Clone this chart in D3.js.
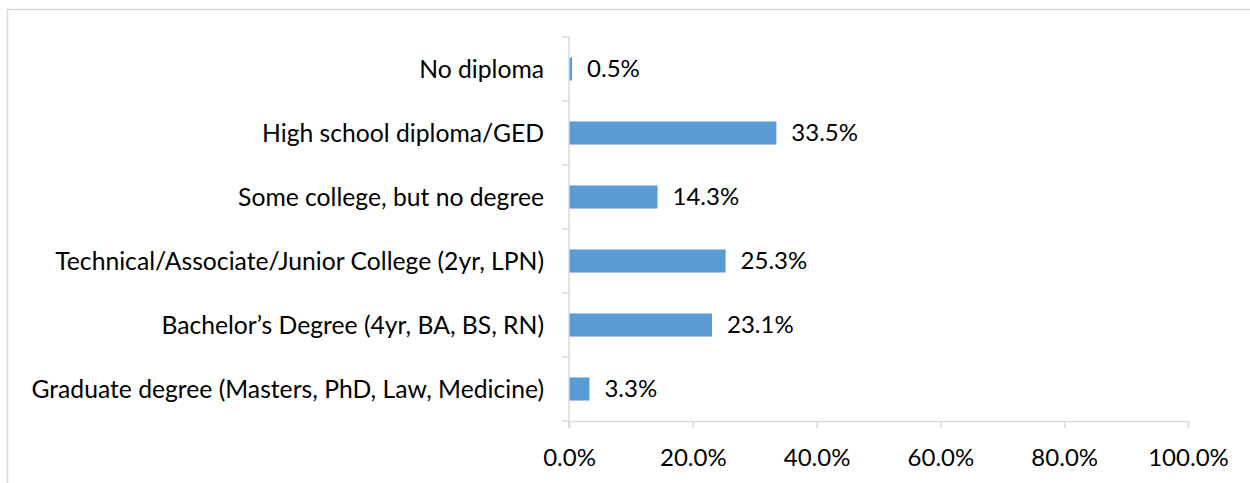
<!DOCTYPE html>
<html>
<head>
<meta charset="utf-8">
<script src="https://cdn.jsdelivr.net/npm/d3@7"></script>
<style>
  html, body { margin: 0; padding: 0; background: #fff; overflow: hidden; }
  svg { display: block; font-family: Lato, "Open Sans", sans-serif; }
</style>
</head>
<body>
<svg id="chart" width="1250" height="483"></svg>
<script>
// Highest level of education completed (percent of respondents)
const categories = [
  "No diploma",
  "High school diploma/GED",
  "Some college, but no degree",
  "Technical/Associate/Junior College (2yr, LPN)",
  "Bachelor\u2019s Degree (4yr, BA, BS, RN)",
  "Graduate degree (Masters, PhD, Law, Medicine)"
];
const values = [0.5, 33.5, 14.3, 25.3, 23.1, 3.3];
const xTicks = [0, 20, 40, 60, 80, 100];

const svg = d3.select("#chart");
const axisColor = "#d9d9d9";
const barColor = "#5b9bd5";
const fontSize = 24;
const categoryFontSize = 24.7;

// chart area outline
svg.append("rect")
  .attr("x", 7.5).attr("y", 9.5)
  .attr("width", 1400).attr("height", 600)
  .attr("fill", "none")
  .attr("stroke", axisColor)
  .attr("stroke-width", 1.5);

const plot = { left: 569, right: 1188, top: 37, bottom: 421 };

const x = d3.scaleLinear().domain([0, 100]).range([plot.left, plot.right]);
const y = d3.scaleBand()
  .domain(categories)
  .range([plot.top, plot.bottom])
  .paddingInner(0.64)
  .paddingOuter(0.32);

// bars
svg.append("g")
  .selectAll("rect")
  .data(values)
  .join("rect")
  .attr("x", x(0))
  .attr("y", (d, i) => y(categories[i]))
  .attr("width", d => x(d) - x(0))
  .attr("height", y.bandwidth())
  .attr("fill", barColor);

// x axis
const xAxis = svg.append("g")
  .attr("transform", `translate(0,${plot.bottom})`)
  .call(d3.axisBottom(x)
    .tickValues(xTicks)
    .tickSize(7)
    .tickPadding(21)
    .tickFormat(d => d3.format(".1f")(d) + "%"));
xAxis.select(".domain").attr("stroke", axisColor).attr("stroke-width", 1.5);
xAxis.selectAll(".tick line").attr("stroke", axisColor).attr("stroke-width", 1.5);
xAxis.selectAll(".tick text")
  .attr("fill", "#000")
  .style("font-size", fontSize + "px")
  .style("font-family", "Lato, sans-serif");

// category axis: vertical line with ticks at band boundaries
const yAxis = svg.append("g");
yAxis.append("line")
  .attr("x1", plot.left).attr("x2", plot.left)
  .attr("y1", plot.top).attr("y2", plot.bottom + 7)
  .attr("stroke", axisColor).attr("stroke-width", 1.5);
const boundaries = categories.map(c => y(c) - y.step() * y.paddingInner() / 2)
  .concat([plot.bottom]);
yAxis.selectAll(".btick")
  .data(boundaries)
  .join("line")
  .attr("class", "btick")
  .attr("x1", plot.left - 7).attr("x2", plot.left)
  .attr("y1", d => d).attr("y2", d => d)
  .attr("stroke", axisColor).attr("stroke-width", 1.5);

// category labels
svg.append("g")
  .selectAll("text")
  .data(categories)
  .join("text")
  .attr("x", plot.left - 25)
  .attr("y", d => y(d) + y.bandwidth() / 2)
  .attr("dy", "0.35em")
  .attr("text-anchor", "end")
  .attr("fill", "#000")
  .style("font-size", categoryFontSize + "px")
  .text(d => d);

// value labels
svg.append("g")
  .selectAll("text")
  .data(values)
  .join("text")
  .attr("x", d => x(d) + 15)
  .attr("y", (d, i) => y(categories[i]) + y.bandwidth() / 2)
  .attr("dy", "0.35em")
  .attr("fill", "#000")
  .style("font-size", fontSize + "px")
  .text(d => d3.format(".1f")(d) + "%");
</script>
</body>
</html>
